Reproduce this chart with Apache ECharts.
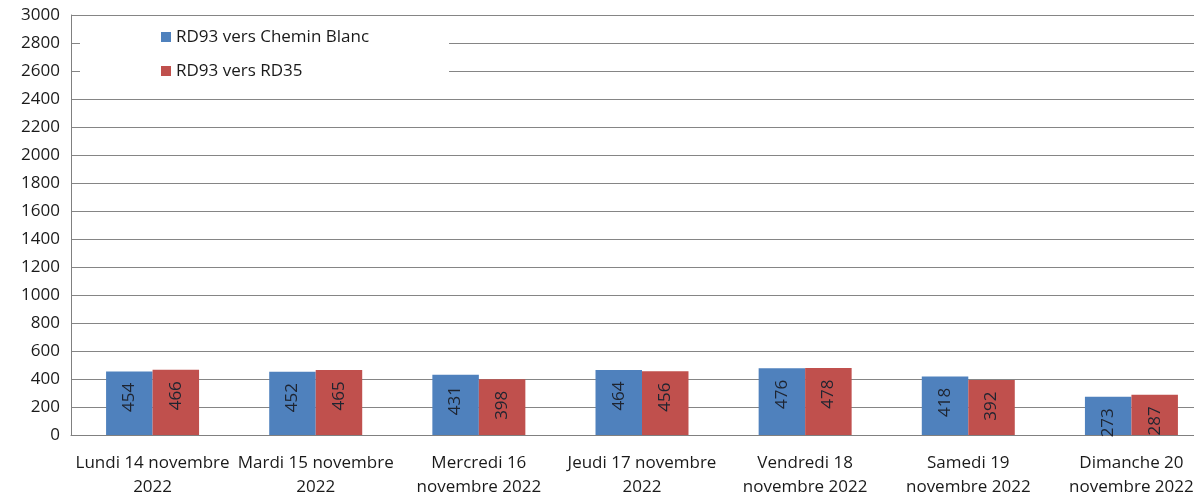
<!DOCTYPE html>
<html>
<head>
<meta charset="utf-8">
<script src="https://cdn.jsdelivr.net/npm/echarts@6/dist/echarts.min.js"></script>
<style>
  html, body { margin: 0; padding: 0; background: #fff; }
  #main { width: 1194px; height: 496px; }
</style>
</head>
<body>
<div id="main"></div>
<script>
var days = ['Lundi 14 novembre\n2022', 'Mardi 15 novembre\n2022', 'Mercredi 16\nnovembre 2022',
  'Jeudi 17 novembre\n2022', 'Vendredi 18\nnovembre 2022', 'Samedi 19\nnovembre 2022', 'Dimanche 20\nnovembre 2022'];
var versCheminBlanc = [454, 452, 431, 464, 476, 418, 273];
var versRD35 = [466, 465, 398, 456, 478, 392, 287];

var myChart = echarts.init(document.getElementById('main'));
var font = '"Open Sans", sans-serif';

// libellés verticaux dans les barres
var barLabel = {
  show: true,
  position: ['50%', 26],
  rotate: 90,
  align: 'center',
  verticalAlign: 'middle',
  color: '#1e2430',
  fontFamily: font,
  fontSize: 17
};

var option = {
  animation: false,
  // la zone de tracé déborde à droite de la fenêtre
  grid: { left: 71, top: 15, width: 1142, height: 420, outerBoundsMode: 'none', containLabel: false },
  legend: {
    orient: 'vertical',
    left: 80, top: 16,
    padding: [11, 80, 14, 81],
    backgroundColor: '#fff',
    itemWidth: 10, itemHeight: 10,
    itemGap: 14,
    icon: 'rect',
    textStyle: { fontFamily: font, fontSize: 17, color: '#1a1a1a', lineHeight: 20 },
    data: ['RD93 vers Chemin Blanc', 'RD93 vers RD35']
  },
  xAxis: {
    type: 'category',
    data: days,
    axisLine: { lineStyle: { color: '#808080' } },
    axisTick: { show: false },
    axisLabel: { interval: 0, margin: 16, fontFamily: font, fontSize: 17, lineHeight: 24, color: '#1a1a1a' }
  },
  yAxis: {
    type: 'value',
    min: 0, max: 3000, interval: 200,
    axisLine: { show: true, lineStyle: { color: '#808080' } },
    axisTick: { show: false },
    axisLabel: { margin: 11, fontFamily: font, fontSize: 17, color: '#1a1a1a', formatter: function (v) { return String(v); } },
    splitLine: { lineStyle: { color: '#858585' } }
  },
  series: [
    { name: 'RD93 vers Chemin Blanc', type: 'bar', data: versCheminBlanc,
      itemStyle: { color: '#4f81bd' }, barGap: '0%', barCategoryGap: '43%', label: barLabel },
    { name: 'RD93 vers RD35', type: 'bar', data: versRD35,
      itemStyle: { color: '#c0504d' }, barGap: '0%', barCategoryGap: '43%', label: barLabel }
  ]
};
myChart.setOption(option);
</script>
</body>
</html>
